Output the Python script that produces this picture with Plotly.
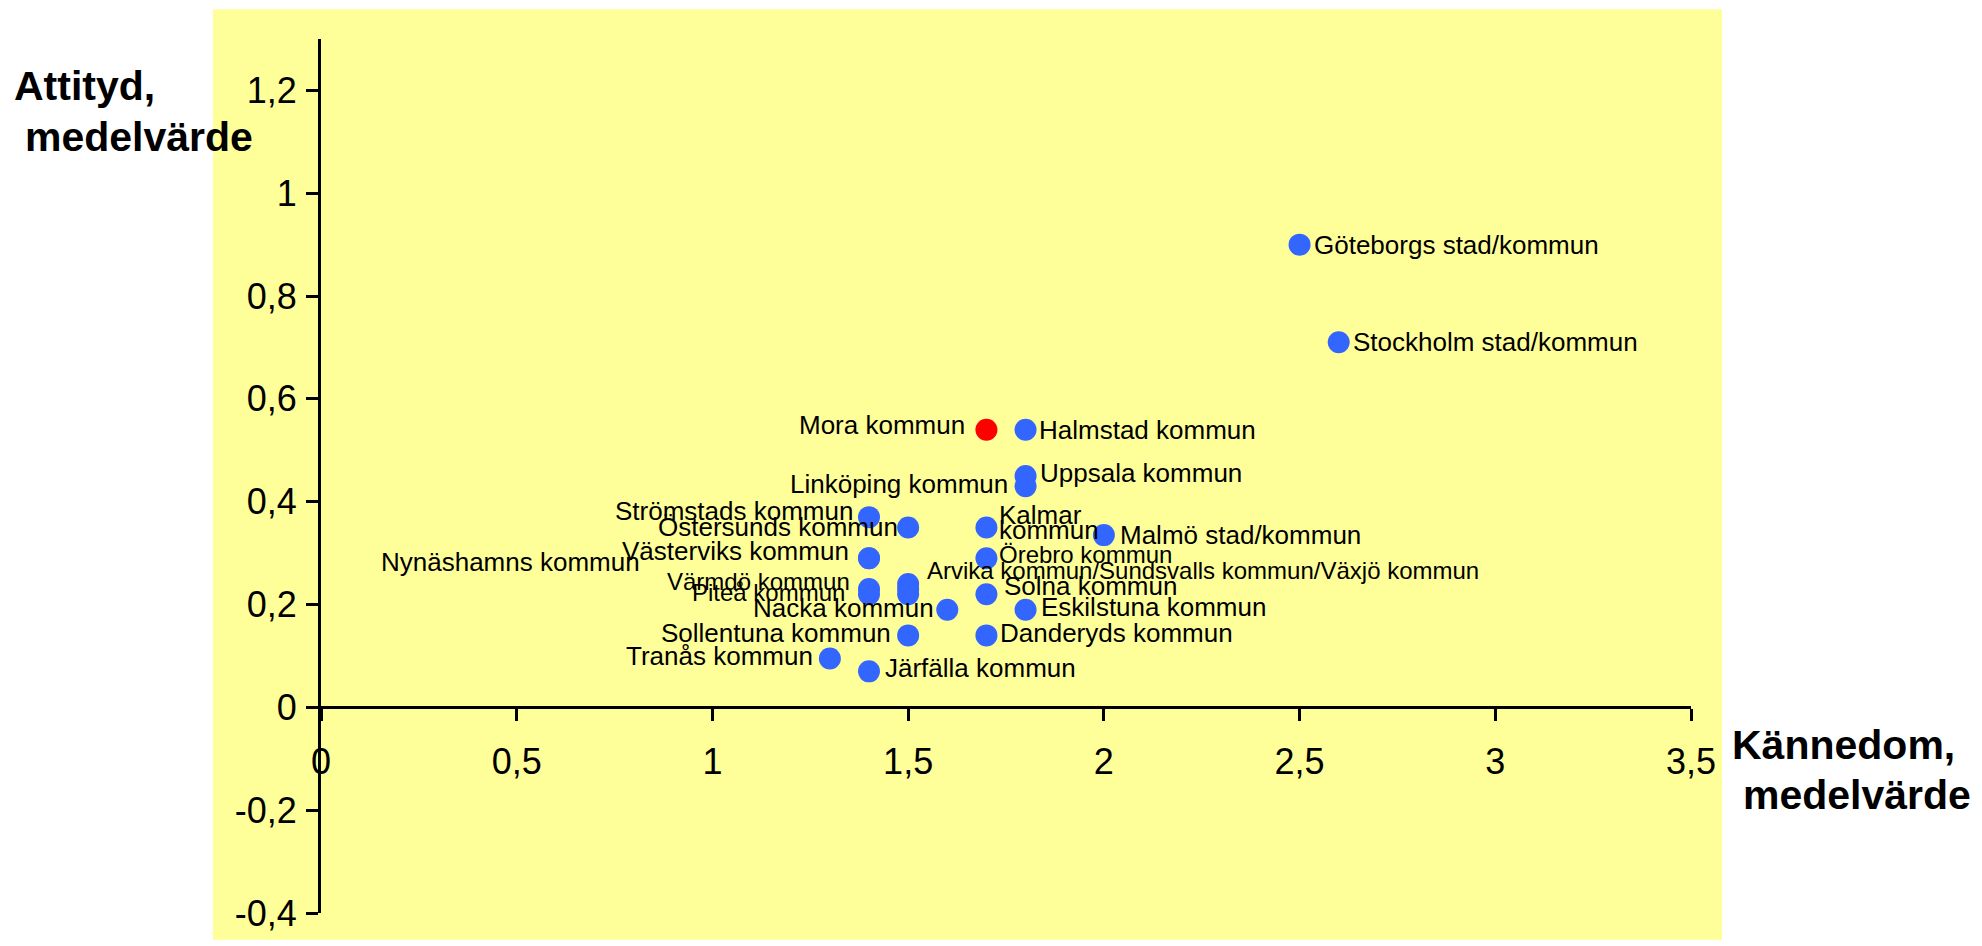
import plotly.graph_objects as go

# ---------------- data ----------------
names = [
    "Göteborgs stad/kommun", "Stockholm stad/kommun", "Mora kommun", "Halmstad kommun",
    "Uppsala kommun", "Linköping kommun", "Strömstads kommun", "Östersunds kommun",
    "Kalmar kommun", "Malmö stad/kommun", "Västerviks kommun", "Nynäshamns kommun",
    "Örebro kommun", "Värmdö kommun", "Piteå kommun", "Arvika kommun",
    "Sundsvalls kommun", "Växjö kommun", "Solna kommun", "Nacka kommun",
    "Eskilstuna kommun", "Sollentuna kommun", "Danderyds kommun", "Tranås kommun",
    "Järfälla kommun",
]
kannedom = [2.5, 2.6, 1.7, 1.8, 1.8, 1.8, 1.4, 1.5, 1.7, 2.0, 1.4, 1.4, 1.7, 1.4, 1.4,
            1.5, 1.5, 1.5, 1.7, 1.6, 1.8, 1.5, 1.7, 1.3, 1.4]
attityd = [0.90, 0.71, 0.54, 0.54, 0.45, 0.43, 0.37, 0.35, 0.35, 0.335, 0.29, 0.29, 0.29,
           0.23, 0.22, 0.24, 0.23, 0.22, 0.22, 0.19, 0.19, 0.14, 0.14, 0.095, 0.07]
highlight = "Mora kommun"

# point labels as shown in the chart (Arvika/Sundsvall/Växjö share one label)
labels = [
    ["Göteborgs stad/kommun"], ["Stockholm stad/kommun"], ["Mora kommun"], ["Halmstad kommun"],
    ["Uppsala kommun"], ["Linköping kommun"], ["Strömstads kommun"], ["Östersunds kommun"],
    ["Kalmar", "kommun"], ["Malmö stad/kommun"], ["Västerviks kommun"], ["Nynäshamns kommun"],
    ["Örebro kommun"], ["Värmdö kommun"], ["Piteå kommun"],
    ["Arvika kommun/Sundsvalls kommun/Växjö kommun"], [], [],
    ["Solna kommun"], ["Nacka kommun"], ["Eskilstuna kommun"], ["Sollentuna kommun"],
    ["Danderyds kommun"], ["Tranås kommun"], ["Järfälla kommun"],
]

x_ticks = [0, 0.5, 1, 1.5, 2, 2.5, 3, 3.5]
x_ticktext = ["0", "0,5", "1", "1,5", "2", "2,5", "3", "3,5"]
y_ticks = [-0.4, -0.2, 0, 0.2, 0.4, 0.6, 0.8, 1, 1.2]
y_ticktext = ["-0,4", "-0,2", "0", "0,2", "0,4", "0,6", "0,8", "1", "1,2"]

y_title = ["Attityd,", "medelvärde"]
x_title = ["Kännedom,", "medelvärde"]

# ---------------- styling / layout ----------------
W, H = 1982, 946
ML, MR, MT, MB = 321, 291, 39, 28
PW, PH = W - ML - MR, H - MT - MB
FONT = "Arial, Liberation Sans, sans-serif"
BLUE = "#3366FF"
RED = "#FF0000"
YELLOW = "#FFFF99"


def px_x(p):
    return (p - ML) / PW


def px_y(p):
    return (H - MB - p) / PH


# label placement per point: (anchor, xshift, [yshift per line], size)
label_style = [
    ("left", 12, [0], 26), ("left", 12, [0], 26), ("right", -19, [5], 26), ("left", 11, [0], 26),
    ("left", 12, [3], 26), ("right", -16, [2], 26), ("right", -14, [6], 26), ("right", -8, [0], 26),
    ("left", 11, [12, -3], 26), ("left", 14, [0], 26), ("right", -18, [7], 26), ("right", -227, [-4], 26),
    ("left", 11, [4], 24), ("right", -17, [8], 24), ("right", -22, [2], 24),
    ("left", 17, [13], 24), None, None,
    ("left", 16, [8], 26), ("right", -11, [2], 26), ("left", 13, [3], 26), ("right", -15, [2], 26),
    ("left", 12, [2], 26), ("right", -15, [3], 26), ("left", 14, [3], 26),
]

colors = [RED if n == highlight else BLUE for n in names]

fig = go.Figure()
fig.add_trace(go.Scatter(
    x=kannedom, y=attityd, mode="markers", text=names, hoverinfo="text",
    marker=dict(size=22, color=colors, line=dict(width=0)), showlegend=False,
))

annotations = []
for i, lab in enumerate(labels):
    st = label_style[i]
    if not lab or st is None:
        continue
    anchor, xs, yss, size = st
    for line, ys in zip(lab, yss):
        annotations.append(dict(
            x=kannedom[i], y=attityd[i], xref="x", yref="y", text=line, showarrow=False,
            xanchor=anchor, yanchor="middle", xshift=xs, yshift=ys,
            font=dict(family=FONT, size=size, color="black"),
        ))

# axis titles
for txt, px0, cy in [(y_title[0], 12, 86), (y_title[1], 23, 138),
                     (x_title[0], 1730, 749), (x_title[1], 1741, 799)]:
    annotations.append(dict(x=px_x(px0), y=px_y(cy), xref="paper", yref="paper", text=txt,
                            showarrow=False, xanchor="left", yanchor="middle",
                            font=dict(family=FONT, size=41, color="black", weight="bold")))

y_min, y_max = -0.4, 1.3
fig.update_layout(
    width=W, height=H,
    margin=dict(l=ML, r=MR, t=MT, b=MB, pad=0),
    paper_bgcolor="white", plot_bgcolor="rgba(0,0,0,0)",
    font=dict(family=FONT, color="black"),
    shapes=[dict(type="rect", xref="paper", yref="paper", layer="below",
                 x0=px_x(213), x1=px_x(1722), y0=px_y(945), y1=px_y(9),
                 fillcolor=YELLOW, line=dict(width=0))],
    annotations=annotations,
    xaxis=dict(range=[0, 3.5], tickvals=x_ticks, ticktext=x_ticktext, showgrid=False,
               zeroline=False, showline=True, linecolor="black", linewidth=3,
               ticks="outside", ticklen=12, tickwidth=2.5, tickcolor="black",
               anchor="free", position=(0 - y_min) / (y_max - y_min),
               tickfont=dict(family=FONT, size=36, color="black"), ticklabelstandoff=9),
    yaxis=dict(range=[y_min, y_max], tickvals=y_ticks, ticktext=y_ticktext, showgrid=False,
               zeroline=False, showline=True, linecolor="black", linewidth=3,
               ticks="outside", ticklen=12, tickwidth=2.5, tickcolor="black",
               tickfont=dict(family=FONT, size=36, color="black"), ticklabelstandoff=2),
)

fig.write_html("out.html", config={"displayModeBar": False},
               post_script="document.body.style.margin='0';document.body.style.overflow='hidden';")
